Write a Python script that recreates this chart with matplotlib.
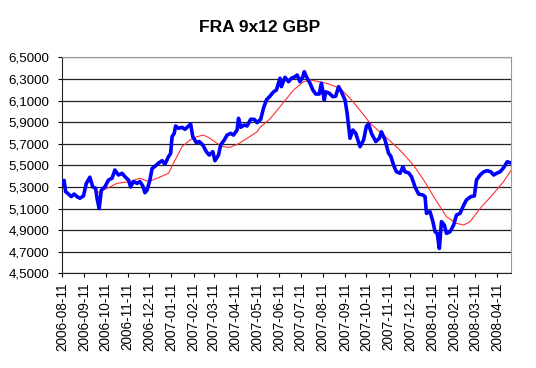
import matplotlib
matplotlib.use("Agg")
import matplotlib.pyplot as plt
import matplotlib.dates as mdates
from matplotlib.ticker import FuncFormatter
import numpy as np
import pandas as pd

# FRA 9x12 GBP (linha azul)
datas_fra = [
    "2006-08-11", "2006-08-14", "2006-08-16", "2006-08-20", "2006-08-24", "2006-08-28",
    "2006-09-01", "2006-09-05", "2006-09-10", "2006-09-14", "2006-09-19", "2006-09-23",
    "2006-09-27", "2006-09-29", "2006-10-02", "2006-10-05", "2006-10-10", "2006-10-15",
    "2006-10-20", "2006-10-24", "2006-10-29", "2006-11-03", "2006-11-07", "2006-11-12",
    "2006-11-15", "2006-11-19", "2006-11-24", "2006-11-28", "2006-12-02", "2006-12-05",
    "2006-12-08", "2006-12-12", "2006-12-15", "2006-12-19", "2006-12-24", "2006-12-29",
    "2007-01-02", "2007-01-07", "2007-01-10", "2007-01-12", "2007-01-15", "2007-01-17",
    "2007-01-21", "2007-01-26", "2007-01-30", "2007-02-04", "2007-02-07", "2007-02-10",
    "2007-02-15", "2007-02-19", "2007-02-24", "2007-03-01", "2007-03-05", "2007-03-10",
    "2007-03-13", "2007-03-18", "2007-03-21", "2007-03-26", "2007-03-30", "2007-04-04",
    "2007-04-08", "2007-04-13", "2007-04-15", "2007-04-18", "2007-04-23", "2007-04-27",
    "2007-05-02", "2007-05-07", "2007-05-11", "2007-05-16", "2007-05-20", "2007-05-24",
    "2007-05-29", "2007-06-03", "2007-06-07", "2007-06-12", "2007-06-14", "2007-06-19",
    "2007-06-24", "2007-06-28", "2007-07-03", "2007-07-06", "2007-07-10", "2007-07-14",
    "2007-07-16", "2007-07-19", "2007-07-24", "2007-07-28", "2007-08-01", "2007-08-06",
    "2007-08-09", "2007-08-13", "2007-08-15", "2007-08-20", "2007-08-25", "2007-08-29",
    "2007-09-02", "2007-09-06", "2007-09-11", "2007-09-14", "2007-09-18", "2007-09-22",
    "2007-09-26", "2007-10-02", "2007-10-07", "2007-10-11", "2007-10-14", "2007-10-18",
    "2007-10-24", "2007-10-29", "2007-11-01", "2007-11-06", "2007-11-11", "2007-11-14",
    "2007-11-18", "2007-11-22", "2007-11-27", "2007-12-01", "2007-12-04", "2007-12-09",
    "2007-12-13", "2007-12-18", "2007-12-23", "2007-12-29", "2008-01-01", "2008-01-03",
    "2008-01-08", "2008-01-12", "2008-01-15", "2008-01-18", "2008-01-21", "2008-01-24",
    "2008-01-28", "2008-01-31", "2008-02-05", "2008-02-10", "2008-02-14", "2008-02-19",
    "2008-02-24", "2008-02-28", "2008-03-05", "2008-03-10", "2008-03-13", "2008-03-18",
    "2008-03-23", "2008-03-28", "2008-04-02", "2008-04-06", "2008-04-10", "2008-04-15",
    "2008-04-19", "2008-04-22", "2008-04-25", "2008-04-29",
]
valores_fra = [
    5.333, 5.360, 5.256, 5.234, 5.210, 5.234,
    5.210, 5.195, 5.216, 5.333, 5.390, 5.300,
    5.288, 5.195, 5.100, 5.270, 5.300, 5.364,
    5.380, 5.456, 5.410, 5.426, 5.395, 5.364,
    5.300, 5.350, 5.333, 5.350, 5.310, 5.246,
    5.270, 5.364, 5.470, 5.490, 5.520, 5.543,
    5.510, 5.580, 5.610, 5.765, 5.796, 5.864,
    5.843, 5.852, 5.833, 5.864, 5.882, 5.765,
    5.710, 5.720, 5.688, 5.626, 5.595, 5.626,
    5.543, 5.595, 5.688, 5.734, 5.780, 5.796,
    5.780, 5.827, 5.935, 5.852, 5.873, 5.864,
    5.926, 5.926, 5.895, 5.926, 6.030, 6.105,
    6.140, 6.180, 6.197, 6.306, 6.228, 6.315,
    6.274, 6.306, 6.320, 6.336, 6.274, 6.320,
    6.367, 6.320, 6.260, 6.197, 6.160, 6.160,
    6.260, 6.105, 6.180, 6.167, 6.135, 6.140,
    6.228, 6.180, 6.105, 5.980, 5.750, 5.827,
    5.796, 5.672, 5.734, 5.864, 5.882, 5.796,
    5.720, 5.750, 5.810, 5.734, 5.610, 5.585,
    5.500, 5.440, 5.426, 5.487, 5.440, 5.430,
    5.395, 5.300, 5.234, 5.225, 5.210, 5.055,
    5.070, 4.978, 4.885, 4.870, 4.730, 4.978,
    4.947, 4.870, 4.885, 4.947, 5.040, 5.055,
    5.130, 5.180, 5.210, 5.216, 5.364, 5.410,
    5.440, 5.450, 5.440, 5.410, 5.426, 5.440,
    5.470, 5.500, 5.533, 5.524,
]

# Média móvel (linha vermelha)
datas_media = [
    "2006-09-29", "2006-10-08", "2006-10-27", "2006-11-14", "2006-11-28", "2006-12-10",
    "2006-12-22", "2007-01-07", "2007-01-14", "2007-01-26", "2007-02-06", "2007-02-16",
    "2007-02-25", "2007-03-06", "2007-03-16", "2007-03-25", "2007-04-03", "2007-04-15",
    "2007-04-27", "2007-05-11", "2007-05-15", "2007-05-29", "2007-06-08", "2007-07-01",
    "2007-07-15", "2007-07-24", "2007-08-16", "2007-09-04", "2007-09-18", "2007-10-02",
    "2007-10-16", "2007-11-04", "2007-11-27", "2007-12-16", "2007-12-30", "2008-01-13",
    "2008-01-31", "2008-02-14", "2008-02-24", "2008-03-04", "2008-03-18", "2008-04-06",
    "2008-04-20", "2008-04-30",
]
valores_media = [
    5.246, 5.270, 5.333, 5.350, 5.380, 5.350,
    5.380, 5.426, 5.520, 5.672, 5.734, 5.765,
    5.780, 5.750, 5.703, 5.672, 5.666, 5.700,
    5.750, 5.810, 5.850, 5.930, 6.010, 6.197,
    6.274, 6.290, 6.260, 6.213, 6.120, 6.010,
    5.890, 5.780, 5.640, 5.500, 5.364, 5.210,
    5.024, 4.963, 4.947, 4.978, 5.100, 5.240,
    5.350, 5.450,
]

x_fra = pd.to_datetime(datas_fra)
x_media = pd.to_datetime(datas_media)

plt.rcParams["font.family"] = ["Liberation Sans", "DejaVu Sans"]

fig = plt.figure(figsize=(5.36, 3.68), dpi=100)
ax = fig.add_axes([0.1157, 0.2573, 0.8373, 0.587])

ax.plot(x_media, valores_media, color="#FF3030", linewidth=0.8, zorder=3)
ax.plot(x_fra, valores_fra, color="#0000FF", linewidth=2.6, zorder=4)

ax.set_ylim(4.5, 6.5)
ax.set_xlim(pd.Timestamp("2006-08-11"), pd.Timestamp("2008-04-30"))

ax.set_yticks(np.arange(4.5, 6.51, 0.2))
ax.yaxis.set_major_formatter(FuncFormatter(lambda v, p: f"{v:.4f}".replace(".", ",")))
ax.xaxis.set_major_locator(mdates.MonthLocator(bymonthday=11))
ax.xaxis.set_major_formatter(mdates.DateFormatter("%Y-%m-%d"))

ax.grid(True, axis="y", color="#222222", linewidth=0.9)
ax.set_axisbelow(True)
ax.tick_params(axis="y", labelsize=9.6, length=3, direction="out", pad=6)
ax.tick_params(axis="x", labelsize=9.8, length=3, direction="out", rotation=90, pad=3.5)

ax.spines["left"].set_color("#222222")
ax.spines["bottom"].set_color("#222222")
ax.spines["top"].set_color("#999999")
ax.spines["right"].set_color("#999999")

fig.text(0.485, 0.925, "FRA 9x12 GBP", ha="center", va="center",
         fontsize=12.5, fontweight="bold")

plt.savefig("out.png", dpi=100)
